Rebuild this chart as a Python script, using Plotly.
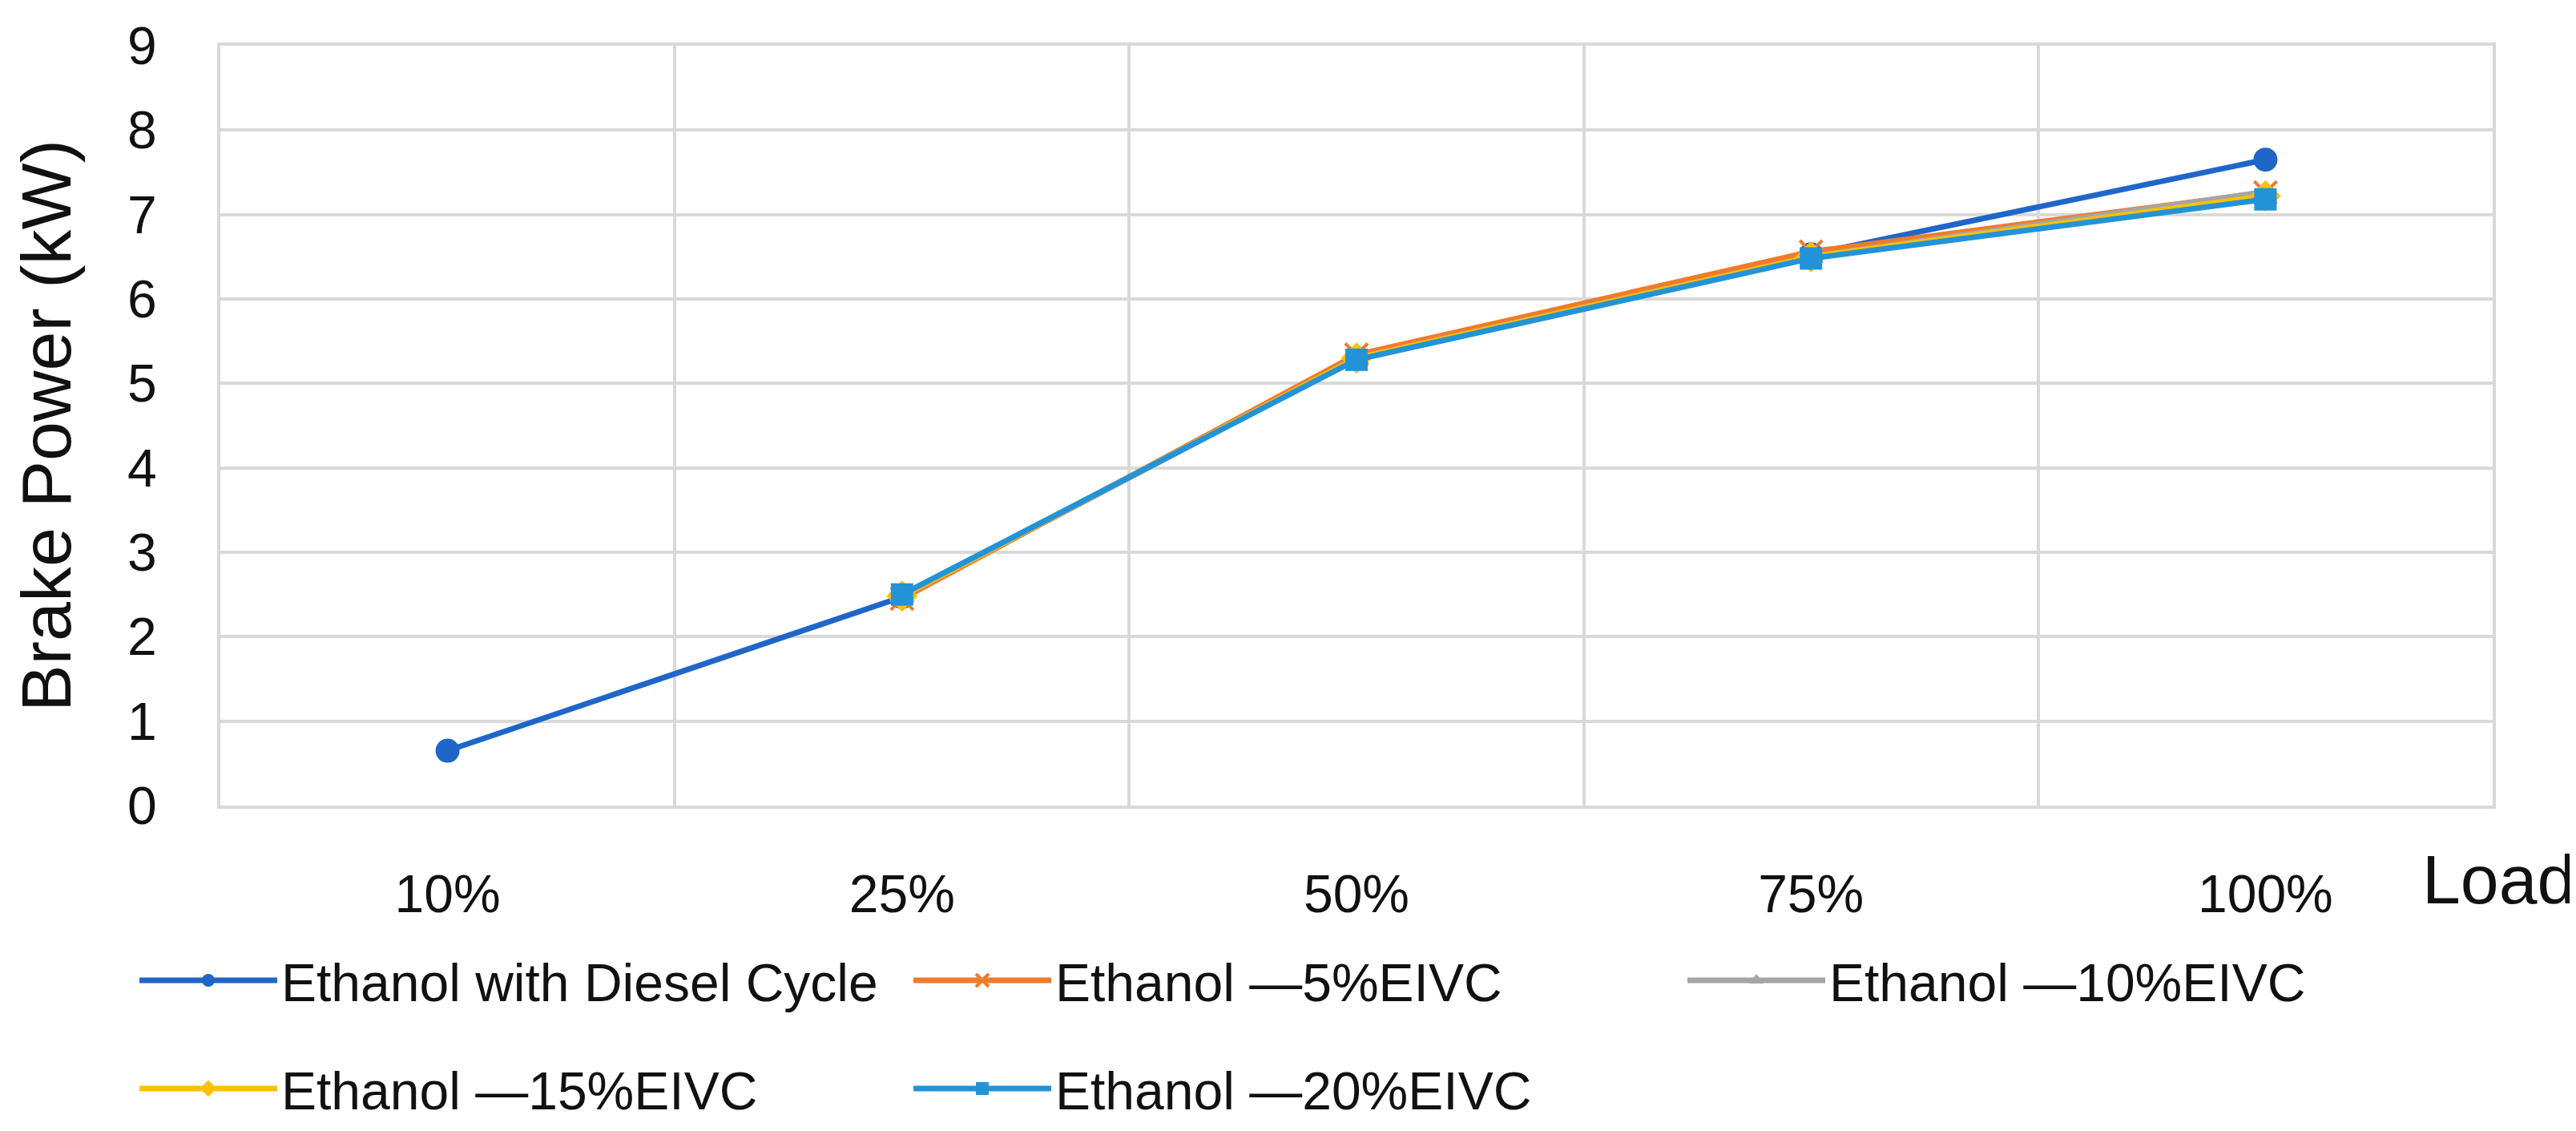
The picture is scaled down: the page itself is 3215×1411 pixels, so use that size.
import plotly.graph_objects as go

loads = ["10%", "25%", "50%", "75%", "100%"]
y_ticks = [0, 1, 2, 3, 4, 5, 6, 7, 8, 9]

diesel_cycle = [0.65, 2.47, 5.30, 6.53, 7.65]
eivc_5 = [None, 2.45, 5.34, 6.56, 7.26]
eivc_10 = [None, 2.48, 5.30, 6.50, 7.27]
eivc_15 = [None, 2.48, 5.30, 6.50, 7.22]
eivc_20 = [None, 2.50, 5.28, 6.48, 7.18]

names = [
    "Ethanol with Diesel Cycle",
    "Ethanol \u20145%EIVC",
    "Ethanol \u201410%EIVC",
    "Ethanol \u201415%EIVC",
    "Ethanol \u201420%EIVC",
]
series = [diesel_cycle, eivc_5, eivc_10, eivc_15, eivc_20]
colors = ["#1F66C8", "#F07B2A", "#A5A5A5", "#FFC000", "#2393D8"]
symbols = ["circle", "x-thin", "triangle-up", "diamond", "square"]
sizes = [30, 28, 28, 30, 28]
legend_ids = ["legend", "legend", "legend", "legend2", "legend2"]

FONT = "Liberation Sans, Arial, sans-serif"

fig = go.Figure()
for nm, vals, col, sym, sz, lg in zip(names, series, colors, symbols, sizes, legend_ids):
    marker = dict(symbol=sym, size=sz, color=col)
    if sym == "x-thin":
        marker["line"] = dict(color=col, width=4)
    else:
        marker["line"] = dict(color=col, width=0)
    fig.add_trace(go.Scatter(
        x=loads, y=vals, name=nm, mode="lines+markers",
        line=dict(color=col, width=7), marker=marker,
        connectgaps=False, legend=lg,
    ))

W, H = 3215, 1411
ml, mr, mt, mb = 267, 112, 37, 390
pw = W - ml - mr
ph = H - mt - mb

def py(pix):
    return (H - mb - pix) / ph

def px(pix):
    return (pix - ml) / pw

legend_common = dict(
    orientation="h", xanchor="left", yanchor="top",
    font=dict(family=FONT, size=66, color="#111111"),
    itemwidth=172, entrywidth=779, entrywidthmode="pixels",
    bgcolor="rgba(0,0,0,0)", tracegroupgap=0,
)

fig.update_layout(
    width=W, height=H,
    margin=dict(l=ml, r=mr, t=mt, b=mb),
    paper_bgcolor="white", plot_bgcolor="white",
    font=dict(family=FONT, size=66, color="#111111"),
    showlegend=True,
    legend=dict(x=px(161), y=py(1196), **legend_common),
    legend2=dict(x=px(161), y=py(1336), **legend_common),
    xaxis=dict(
        type="category", categoryorder="array", categoryarray=loads,
        range=[-0.5, 4.5], tickson="boundaries", ticks="",
        showgrid=True, gridcolor="#D9D9D9", gridwidth=4,
        showline=True, mirror=True, linecolor="#D9D9D9", linewidth=4,
        tickfont=dict(family=FONT, size=66, color="#111111"),
        ticklabelstandoff=50, zeroline=False,
    ),
    yaxis=dict(
        range=[0, 9], tickmode="array", tickvals=y_ticks,
        showgrid=True, gridcolor="#D9D9D9", gridwidth=4,
        showline=True, mirror=True, linecolor="#D9D9D9", linewidth=4,
        tickfont=dict(family=FONT, size=66, color="#111111"),
        ticks="", ticklabelstandoff=62, zeroline=False,
        title=dict(text="Brake Power (kW)", font=dict(family=FONT, size=88, color="#111111"), standoff=52),
    ),
    annotations=[dict(
        text="Load", xref="paper", yref="paper", x=px(3110), y=py(1117),
        xanchor="center", yanchor="middle", showarrow=False,
        font=dict(family=FONT, size=86, color="#111111"),
    )],
)

fig.write_html("out.html")
